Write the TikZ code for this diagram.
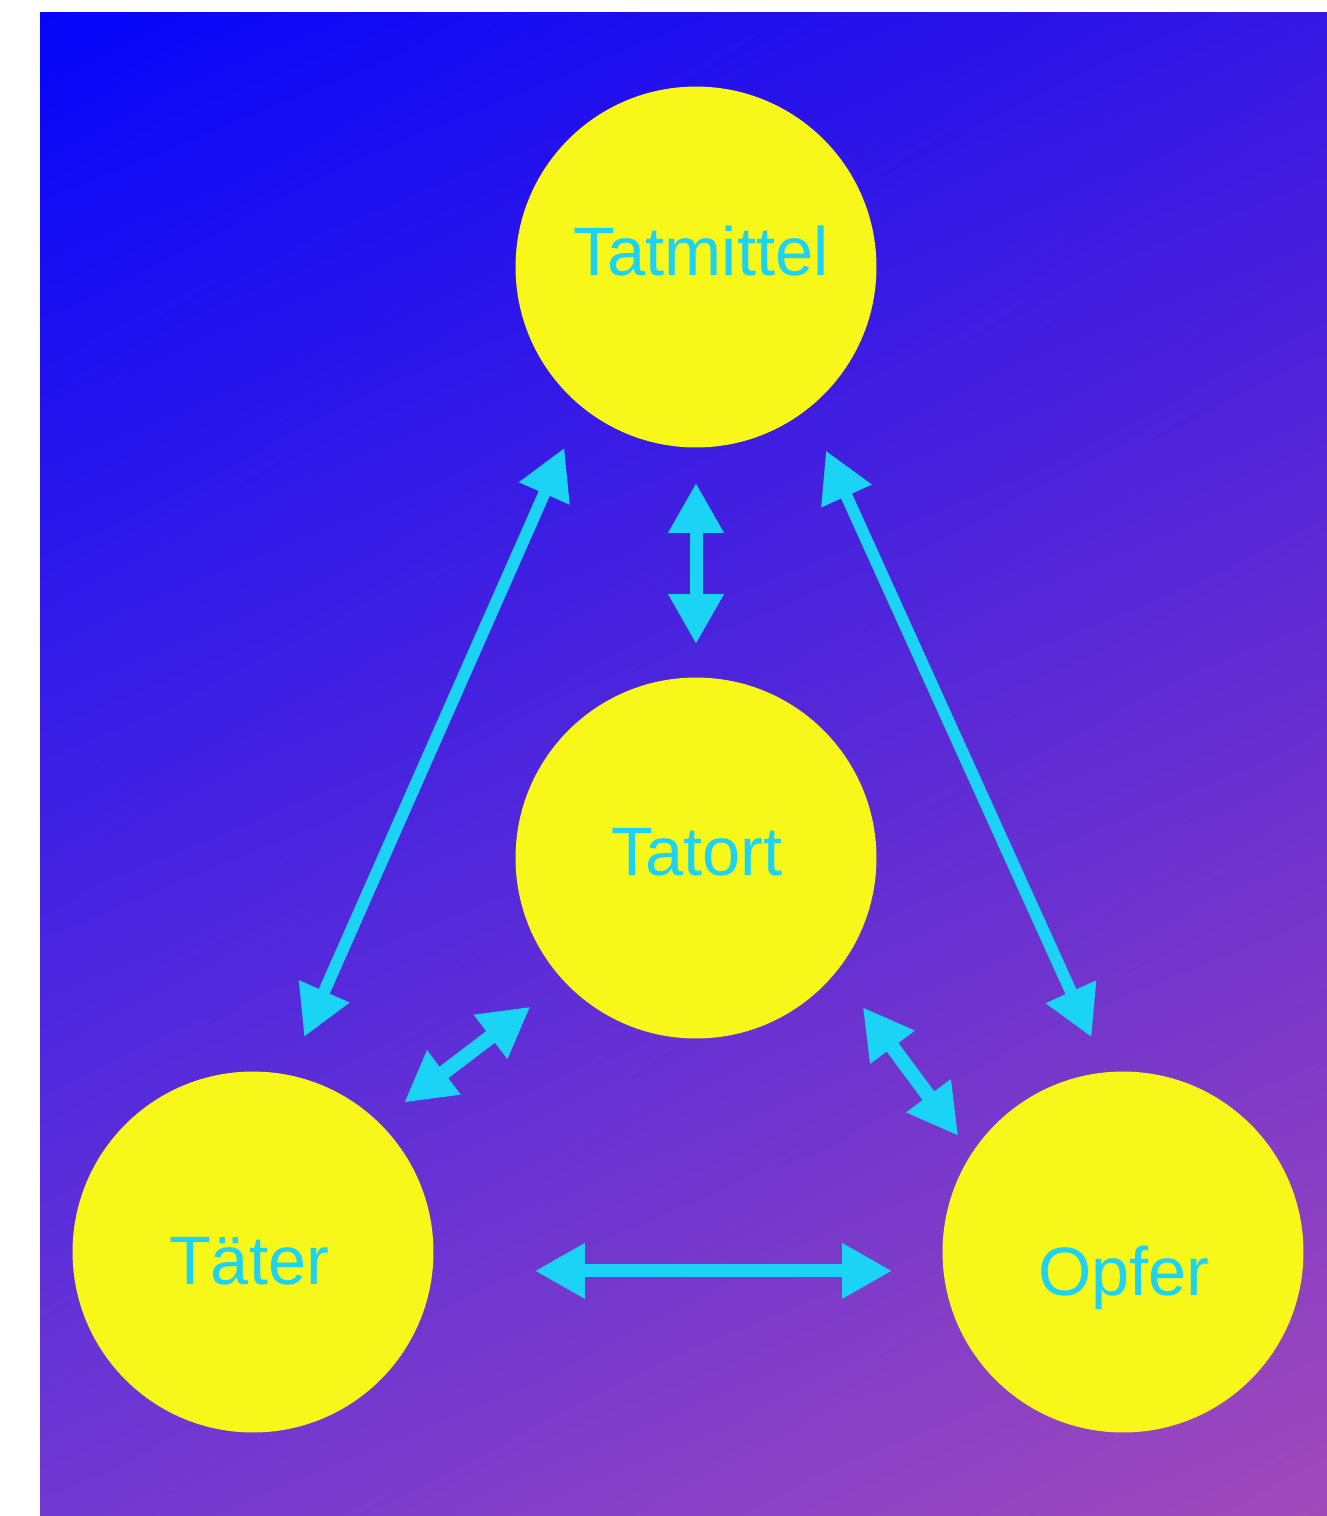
\documentclass[tikz,border=0pt]{standalone}
\usepackage{fontspec}
\setmainfont{Liberation Sans}
\usetikzlibrary{arrows.meta,positioning,shadings}
\definecolor{spotyellow}{RGB}{247,247,25}
\definecolor{linkcyan}{RGB}{27,212,245}

\pgfdeclarefunctionalshading{bgshade}{\pgfpointorigin}{\pgfpoint{100bp}{100bp}}{}{
  50 div 1.5 exch sub exch 50 div 0.5 sub
  2 copy 0.19 mul exch 0.42 mul add 0.02 add
  3 1 roll
  2 copy 0.07 mul exch 0.2 mul add 0.02 add
  3 1 roll
  0.09 mul exch 0.16 mul add neg 0.98 add
}

\begin{document}
\begin{tikzpicture}[
    x=0.02cm, y=-0.02cm,
    spot/.style={circle, fill=spotyellow, inner sep=0pt, minimum size=7.22cm},
    lbl/.style={anchor=base, inner sep=0pt, text=linkcyan, font=\fontsize{39}{41}\selectfont},
    link/.style={<->, >={Triangle[length=1cm,width=1.04cm]}, line width=0.26cm, draw=linkcyan},
    short/.style={line width=0.29cm}
]
\useasboundingbox (0,0) rectangle (1327,1516);

% Background
\shade[shading=bgshade] (40,12) rectangle (1327,1516);

% Circles
\node[spot] (mittel) at (696,267) {};
\node[spot] (tatort) at (696,858) {};
\node[spot] (taeter) at (253,1252) {};
\node[spot] (opfer) at (1123,1252) {};

% Labels
\node[lbl] (mittelT) at ([shift={(5,8)}]mittel.center) {Tatmittel};
\node[lbl] (tatortT) at ([shift={(1,17)}]tatort.center) {Tatort};
\node[lbl] (taeterT) at ([shift={(-4,32)}]taeter.center) {Täter};
\node[lbl] (opferT) at ([shift={(1,43)}]opfer.center) {Opfer};

% Arrows
\draw[link, line width=0.24cm, shorten <=0.88cm, shorten >=0.82cm] (mittel.231) -- (taeter.79);
\draw[link, line width=0.24cm, shorten <=0.9cm, shorten >=0.76cm] (mittel.308) -- (opfer.95);
\draw[link, shorten <=0.7cm, shorten >=0.66cm] (mittel.south) -- (tatort.north);
\draw[link, short, shorten <=0.84cm, shorten >=0.64cm] (tatort.223) -- (taeter.46);
\draw[link, short, shorten <=0.88cm, shorten >=0.44cm] (tatort.321) -- (opfer.147);
\draw[link, shorten <=2.04cm, shorten >=1.02cm] (taeter.354) -- (opfer.186);

\end{tikzpicture}
\end{document}
